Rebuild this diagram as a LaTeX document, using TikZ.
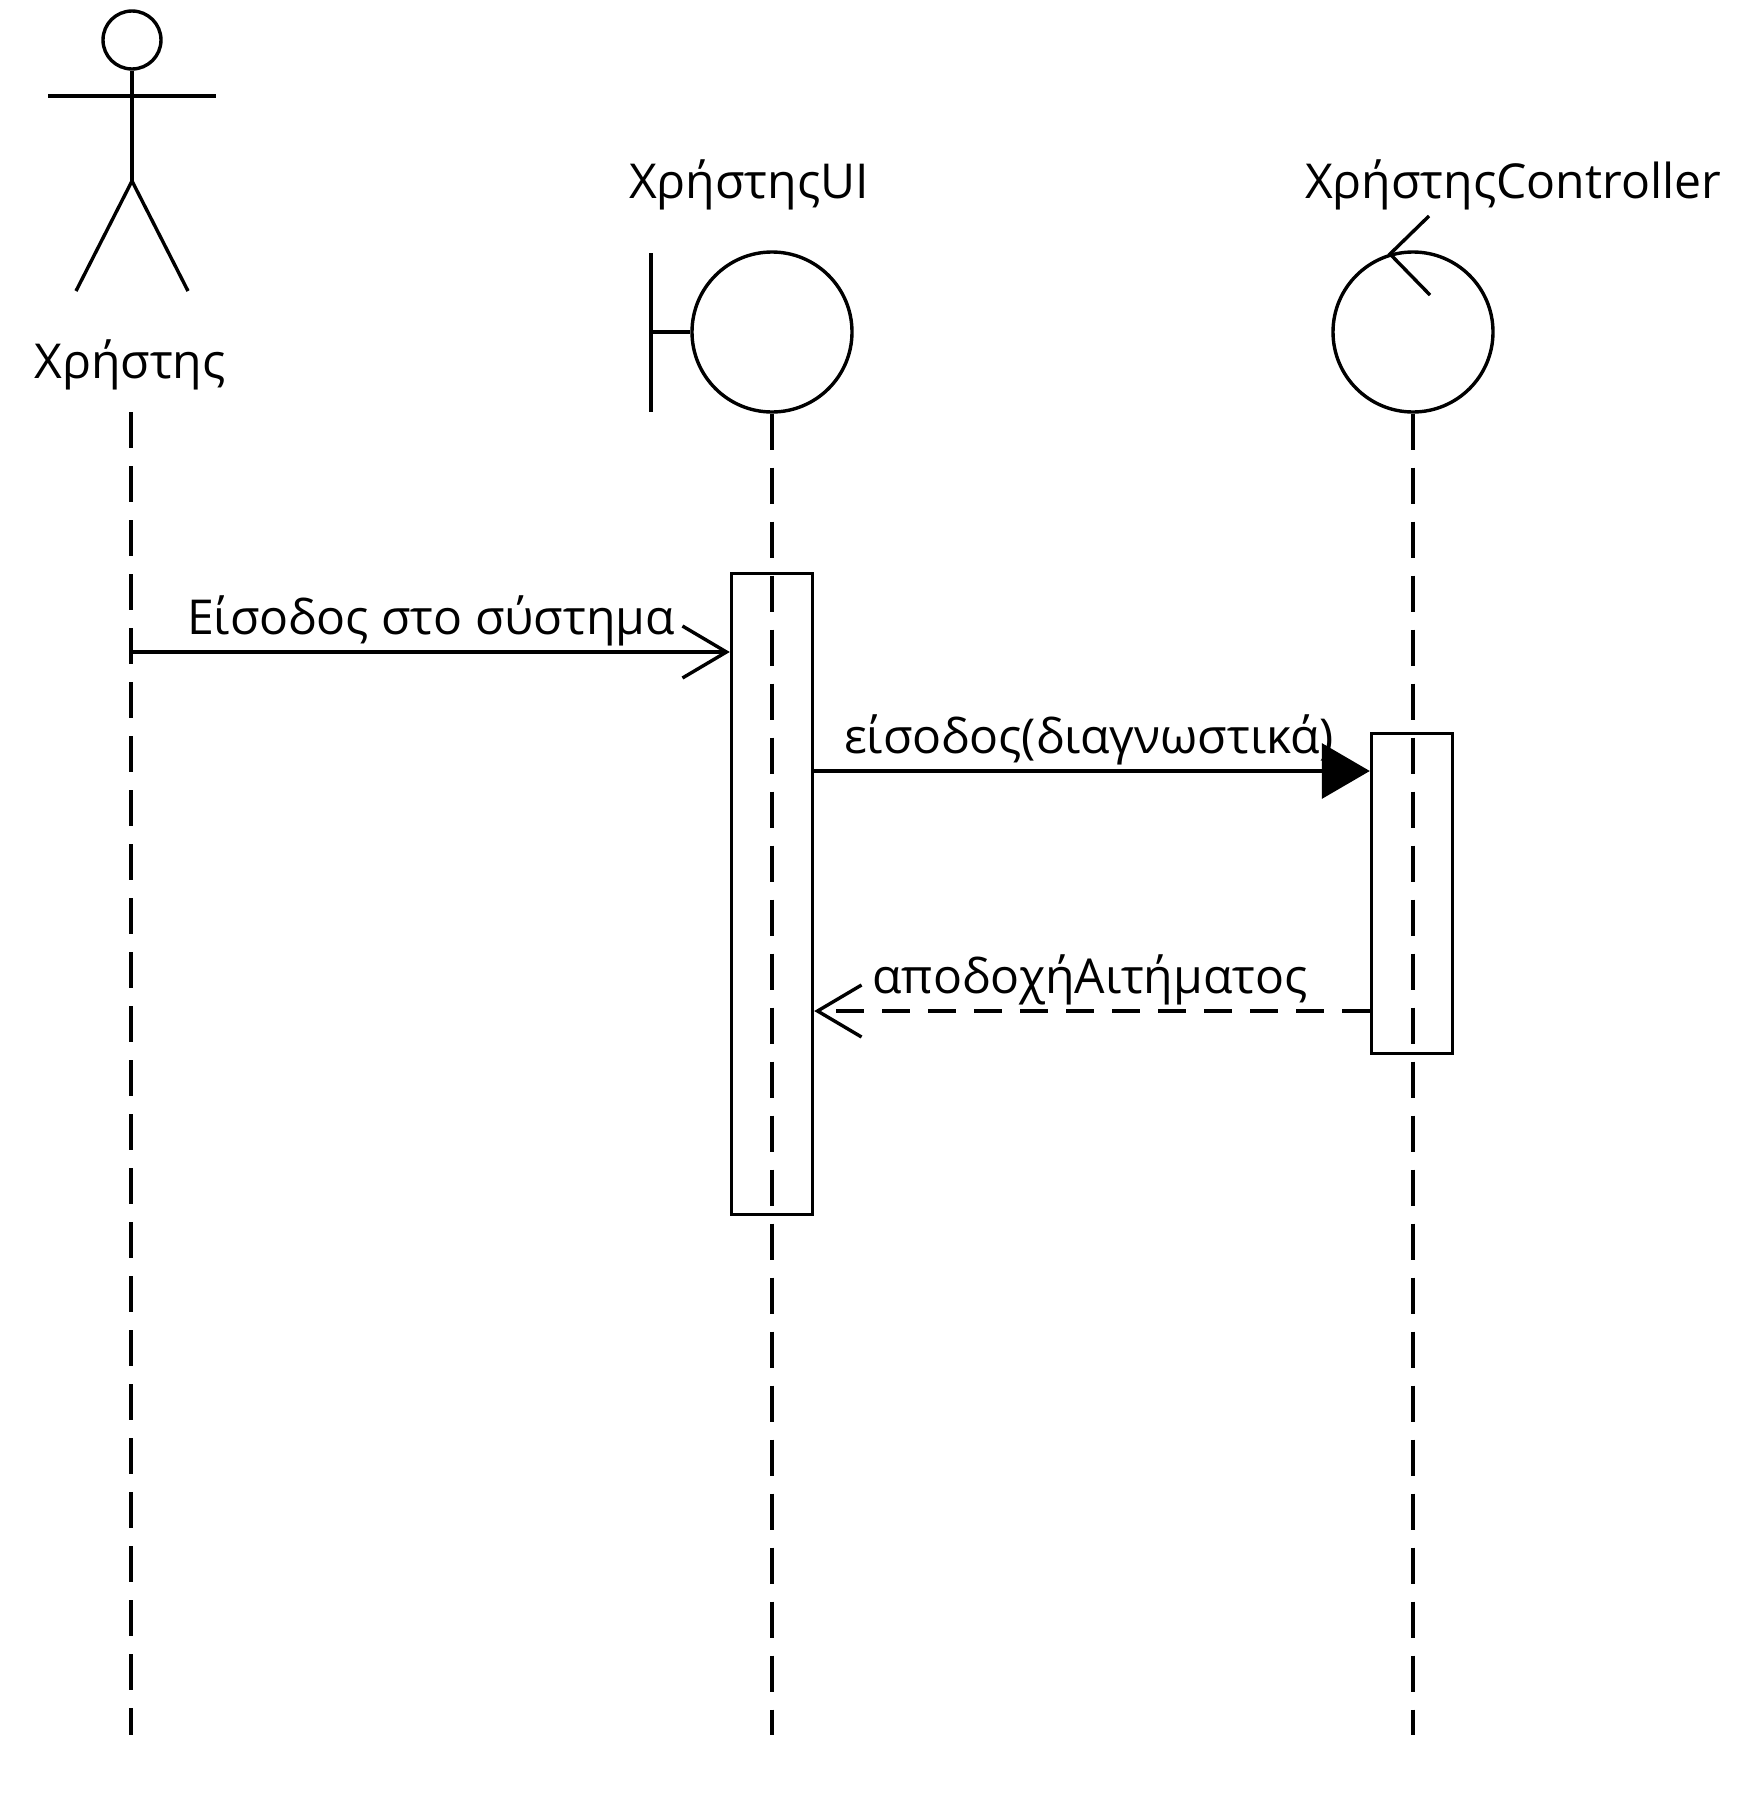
\documentclass[tikz,border=0pt]{standalone}
\usepackage{fontspec}
\setmainfont{Open Sans}
\usetikzlibrary{arrows.meta}
\begin{document}
\begin{tikzpicture}[x=1bp,y=-1bp,line width=3.4bp,
  lbl/.style={inner sep=0pt,anchor=base,font=\fontsize{48.3}{52}\selectfont},
  lifeline/.style={dash pattern=on 36bp off 18bp},
  act/.style={draw,fill=white,minimum width=81bp,inner sep=0pt,anchor=north},
  ent/.style={circle,draw,minimum size=160bp,inner sep=0pt},
  sync/.style={-{Triangle[length=48bp,width=55bp]}},
  openarr/.style={-{Straight Barb[length=44bp,width=52bp]}},
  reply/.style={openarr,dash pattern=on 28bp off 18bp}]
\useasboundingbox (0,0) rectangle (1740,1820);
% actor
\node[circle,draw,minimum size=58bp,inner sep=0pt] (head) at (132,40) {};
\coordinate (hip) at (132,181);
\coordinate (larm) at (48,96);
\coordinate (rarm) at (216,96);
\coordinate (lleg) at (76,291);
\coordinate (rleg) at (188,291);
\draw (head.south) -- (hip);
\draw (larm) -- (rarm);
\draw (lleg) -- (hip) -- (rleg);
\node[lbl] (actorlbl) at (130,378) {Χρήστης};
% boundary
\node[ent] (ui) at (772,332) {};
\coordinate (bt) at (651,253);
\coordinate (bb) at (651,412);
\draw (bt) -- (bb);
\draw (bt |- ui.west) -- (ui.west);
\node[lbl] (uilbl) at (749,198) {ΧρήστηςUI};
% control
\node[ent] (ctrl) at (1413,332) {};
\coordinate (ca1) at (1429,216);
\coordinate (ca2) at (1390,254);
\coordinate (ca3) at (1430,295);
\draw (ca1) -- (ca2) -- (ca3);
\node[lbl] (ctrllbl) at (1513,198) {ΧρήστηςController};
% activations
\node[act,minimum height=641bp] (uiact) at (772,572) {};
\node[act,minimum height=320bp] (ctrlact) at (1412,732) {};
% lifelines
\coordinate (atop) at (131,412);
\coordinate (abot) at (131,1735);
\coordinate (ubot) at (772,1735);
\coordinate (cbot) at (1413,1735);
\draw[lifeline] (atop) -- (abot);
\draw[lifeline] (ui.south) -- (ubot);
\draw[lifeline] (ctrl.south) -- (cbot);
% messages
\coordinate (m1) at (131,652);
\draw[openarr] (m1) -- (uiact.west |- m1);
\node[lbl] (m1lbl) at (431,634) {Είσοδος στο σύστημα};
\coordinate (m2) at (812,771);
\draw[sync] (uiact.east |- m2) -- (ctrlact.west |- m2);
\node[lbl] (m2lbl) at (1089,753) {είσοδος(διαγνωστικά)};
\coordinate (m3) at (1372,1011);
\draw[reply] (ctrlact.west |- m3) -- (uiact.east |- m3);
\node[lbl] (m3lbl) at (1090,993) {αποδοχήΑιτήματος};
\end{tikzpicture}
\end{document}
